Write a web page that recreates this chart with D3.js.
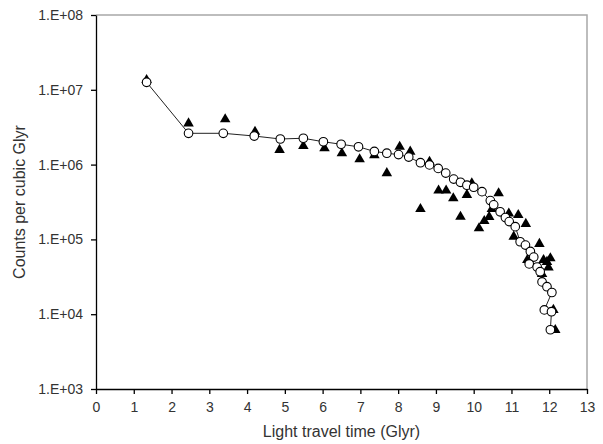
<!DOCTYPE html>
<html>
<head>
<meta charset="utf-8">
<script src="https://cdn.jsdelivr.net/npm/d3@7"></script>
<style>
  body { margin: 0; background: #fff; }
  text { font-family: "Liberation Sans", Arial, sans-serif; }
</style>
</head>
<body>
<svg id="chart" width="603" height="444"></svg>
<script>
// model curve (open circles joined by a line)
const modelX = [1.34, 2.45, 3.37, 4.19, 4.88, 5.49, 6.02, 6.49, 6.95, 7.37, 7.70, 8.01, 8.28, 8.59, 8.83, 9.06,
    9.26, 9.47, 9.65, 9.82, 10.00, 10.22, 10.44, 10.53, 10.70, 10.84, 10.94, 11.10, 11.23, 11.37, 11.50, 11.59,
    11.47, 11.68, 11.76, 11.81, 11.94, 12.07, 11.87, 12.06, 12.03];
const modelY = [1.26e7, 2.62e6, 2.62e6, 2.41e6, 2.20e6, 2.25e6, 2.02e6, 1.87e6, 1.73e6, 1.50e6, 1.42e6, 1.36e6,
    1.26e6, 1.06e6, 9.9e5, 8.9e5, 7.7e5, 6.4e5, 5.8e5, 5.3e5, 4.98e5, 4.35e5, 3.3e5, 2.9e5, 2.34e5, 1.96e5,
    1.73e5, 1.48e5, 9.3e4, 8.4e4, 6.9e4, 5.8e4, 4.7e4, 4.27e4, 3.7e4, 2.7e4, 2.33e4, 1.95e4, 1.14e4, 1.08e4, 6.2e3];

// observed counts (filled triangles)
const obsX = [1.34, 2.45, 3.42, 4.21, 4.86, 5.49, 6.05, 6.51, 6.98, 7.37, 7.70, 8.04, 8.32, 8.59, 8.83, 9.07,
    9.27, 9.46, 9.65, 9.82, 9.95, 10.14, 10.28, 10.41, 10.48, 10.66, 10.93, 11.18, 11.38, 11.06, 11.74, 12.03,
    11.85, 11.98, 11.42, 11.81, 11.94, 12.11, 12.16];
const obsY = [1.35e7, 3.56e6, 4.04e6, 2.75e6, 1.57e6, 1.77e6, 1.65e6, 1.42e6, 1.18e6, 1.34e6, 7.7e5, 1.73e6,
    1.49e6, 2.55e5, 1.09e6, 4.5e5, 4.5e5, 3.54e5, 2.01e5, 3.93e5, 5.62e5, 1.41e5, 1.76e5, 2.0e5, 2.55e5, 4.13e5,
    2.22e5, 2.12e5, 1.61e5, 1.09e5, 8.7e4, 5.6e4, 5.3e4, 4.2e4, 5.3e4, 3.45e4, 5.0e4, 1.14e4, 6.15e3];

const xTicks = d3.range(0, 14);
const yTicks = [1e3, 1e4, 1e5, 1e6, 1e7, 1e8];

const margin = {top: 15, right: 16, bottom: 55, left: 96};
const W = 603 - margin.left - margin.right, H = 444 - margin.top - margin.bottom;

const svg = d3.select('#chart');
const g = svg.append('g').attr('transform', `translate(${margin.left},${margin.top})`);

const scX = d3.scaleLinear().domain([0, 13]).range([0, W]);
const scY = d3.scaleLog().domain([1e3, 1e8]).range([H, 0]);

// grey top / right frame
g.append('path')
    .attr('d', `M0,0H${W}V${H}`)
    .attr('fill', 'none').attr('stroke', '#a8a8a8').attr('stroke-width', 1.5);

const xAxis = g.append('g').attr('transform', `translate(0,${H})`)
    .call(d3.axisBottom(scX).tickValues(xTicks).tickSize(5).tickSizeOuter(0).tickPadding(8));
const yAxis = g.append('g')
    .call(d3.axisLeft(scY).tickValues(yTicks).tickSize(5).tickSizeOuter(0).tickPadding(8)
        .tickFormat(d => '1.E+' + String(Math.round(Math.log10(d))).padStart(2, '0')));

[xAxis, yAxis].forEach(ax => {
    ax.selectAll('path, line').attr('stroke', '#000').attr('stroke-width', 1.3);
    ax.selectAll('text').attr('font-size', 14).attr('fill', '#333')
        .style('font-family', '"Liberation Sans", Arial, sans-serif');
});

const model = modelX.map((x, i) => ({x: x, y: modelY[i]}));
const obs = obsX.map((x, i) => ({x: x, y: obsY[i]}));

// triangles behind the curve
g.append('g').selectAll('path')
    .data(obs).enter().append('path')
    .attr('d', d3.symbol().type(d3.symbolTriangle).size(48))
    .attr('transform', d => `translate(${scX(d.x)},${scY(d.y)})`)
    .attr('fill', '#000');

const lineMaker = d3.line().x(d => scX(d.x)).y(d => scY(d.y));
g.append('path')
    .attr('d', lineMaker(model))
    .attr('fill', 'none').attr('stroke', '#222').attr('stroke-width', 1);

g.append('g').selectAll('circle')
    .data(model).enter().append('circle')
    .attr('r', 4.3)
    .attr('cx', d => scX(d.x)).attr('cy', d => scY(d.y))
    .attr('fill', '#fff').attr('stroke', '#000').attr('stroke-width', 1.1);

// axis titles
svg.append('text')
    .attr('x', margin.left + W / 2).attr('y', 437)
    .attr('text-anchor', 'middle').attr('font-size', 16).attr('fill', '#333')
    .text('Light travel time (Glyr)');
svg.append('text')
    .attr('transform', `translate(25,${margin.top + H / 2}) rotate(-90)`)
    .attr('text-anchor', 'middle').attr('font-size', 16).attr('fill', '#333')
    .text('Counts per cubic Glyr');
</script>
</body>
</html>
